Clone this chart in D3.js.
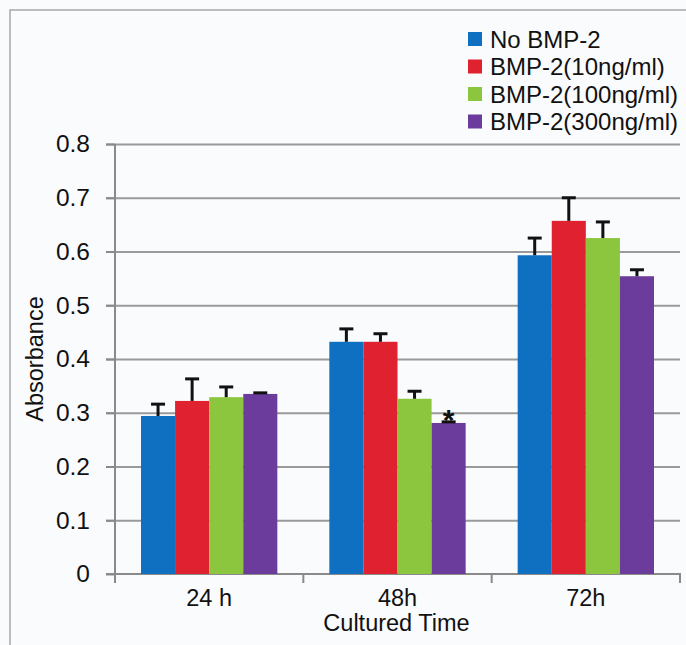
<!DOCTYPE html>
<html>
<head>
<meta charset="utf-8">
<script src="https://cdn.jsdelivr.net/npm/d3@7"></script>
<style>
  html, body { margin: 0; padding: 0; background: #fafbfd; }
  svg { display: block; }
  text { font-family: "Liberation Sans", Arial, Helvetica, sans-serif; fill: #111; }
</style>
</head>
<body>
<svg id="chart" width="686" height="645"></svg>
<script>
////////////////////////// DATA //////////////////////////

const categories = ['24 h', '48h', '72h']
const seriesNames = ['No BMP-2', 'BMP-2(10ng/ml)', 'BMP-2(100ng/ml)', 'BMP-2(300ng/ml)']
const seriesColors = ['#0f6fc0', '#e0212f', '#8cc63f', '#6b3c9b']

// mean absorbance per series, one value per category
const meanValues = [
  [0.294, 0.432, 0.593],
  [0.322, 0.432, 0.657],
  [0.329, 0.326, 0.625],
  [0.335, 0.281, 0.554]
]
// upper error (SD)
const errValues = [
  [0.022, 0.024, 0.032],
  [0.041, 0.015, 0.043],
  [0.019, 0.014, 0.030],
  [0.002, 0.002, 0.012]
]
const yTicks = [0, 0.1, 0.2, 0.3, 0.4, 0.5, 0.6, 0.7, 0.8]

// significance mark: [series index, category index]
const starMarks = [[3, 1]]

////////////////////////// SETUP //////////////////////////

const svg = d3.select('#chart')
const plotLeft = 115, plotRight = 680, plotTop = 144, plotBottom = 574

// outer frame
svg.append('rect')
  .attr('x', 10).attr('y', 10)
  .attr('width', 700).attr('height', 660)
  .attr('fill', '#fafbfd')
  .attr('stroke', '#a8a8a8')
  .attr('stroke-width', 1.5)

const xScale = d3.scaleBand().domain(categories).range([plotLeft, plotRight])
const xInner = d3.scaleBand().domain(d3.range(seriesNames.length))
  .range([26, xScale.bandwidth() - 26])
const yScale = d3.scaleLinear().domain([0, 0.8]).range([plotBottom, plotTop])

const data = []
seriesNames.forEach((s, si) => {
  categories.forEach((c, ci) => {
    data.push({ si, ci, cat: c, value: meanValues[si][ci], err: errValues[si][ci] })
  })
})

////////////////////////// GRID + AXES //////////////////////////

// grid lines
svg.append('g')
  .attr('transform', `translate(${plotLeft},0)`)
  .call(d3.axisLeft(yScale).tickValues(yTicks.slice(1)).tickSize(-(plotRight - plotLeft)).tickSizeOuter(0).tickFormat(''))
  .call(g => g.select('.domain').remove())
  .call(g => g.selectAll('line').attr('stroke', '#9a9a9a').attr('stroke-width', 2).attr('x1', -9))

// y axis
const yAxisG = svg.append('g')
  .attr('transform', `translate(${plotLeft},0)`)
  .call(d3.axisLeft(yScale).tickValues(yTicks).tickSize(9).tickSizeOuter(0).tickPadding(16).tickFormat(d => d === 0 ? '0' : d3.format('.1f')(d)))
yAxisG.select('.domain').attr('stroke', '#8a8a8a').attr('stroke-width', 2)
  .attr('d', `M0,${plotTop}V${plotBottom + 9}`)
yAxisG.selectAll('line').attr('stroke', '#8a8a8a').attr('stroke-width', 2)
yAxisG.selectAll('text').attr('font-size', 24.5).attr('fill', '#111')
  .attr('font-family', '"Liberation Sans", Arial, sans-serif')

// x axis
const xAxisG = svg.append('g')
  .attr('transform', `translate(0,${plotBottom})`)
  .call(d3.axisBottom(xScale).tickSize(0).tickPadding(15))
xAxisG.select('.domain').attr('stroke', '#8a8a8a').attr('stroke-width', 2)
  .attr('d', `M${plotLeft - 9},0H${plotRight}V9`)
xAxisG.selectAll('text').attr('font-size', 23.5).attr('fill', '#111')
  .attr('font-family', '"Liberation Sans", Arial, sans-serif')

// band boundary ticks
svg.append('g').selectAll('line')
  .data(categories)
  .enter()
  .append('line')
  .attr('x1', d => xScale(d)).attr('x2', d => xScale(d))
  .attr('y1', plotBottom).attr('y2', plotBottom + 9)
  .attr('stroke', '#8a8a8a').attr('stroke-width', 2)

////////////////////////// BARS //////////////////////////

svg.append('g').selectAll('rect')
  .data(data)
  .enter()
  .append('rect')
  .attr('x', d => xScale(d.cat) + xInner(d.si))
  .attr('y', d => yScale(d.value))
  .attr('width', xInner.bandwidth())
  .attr('height', d => yScale(0) - yScale(d.value))
  .attr('fill', d => seriesColors[d.si])

// error bars (upper only)
const errG = svg.append('g').attr('stroke', '#111').attr('stroke-width', 3)
errG.selectAll('.err-v')
  .data(data)
  .enter()
  .append('line')
  .attr('x1', d => xScale(d.cat) + xInner(d.si) + xInner.bandwidth() / 2)
  .attr('x2', d => xScale(d.cat) + xInner(d.si) + xInner.bandwidth() / 2)
  .attr('y1', d => yScale(d.value))
  .attr('y2', d => yScale(d.value + d.err))
errG.selectAll('.err-cap')
  .data(data)
  .enter()
  .append('line')
  .attr('x1', d => xScale(d.cat) + xInner(d.si) + xInner.bandwidth() / 2 - 7)
  .attr('x2', d => xScale(d.cat) + xInner(d.si) + xInner.bandwidth() / 2 + 7)
  .attr('y1', d => yScale(d.value + d.err))
  .attr('y2', d => yScale(d.value + d.err))

// asterisk
svg.append('g').selectAll('text')
  .data(starMarks)
  .enter()
  .append('text')
  .attr('x', d => xScale(categories[d[1]]) + xInner(d[0]) + xInner.bandwidth() / 2)
  .attr('y', d => yScale(meanValues[d[0]][d[1]] + errValues[d[0]][d[1]]) + 8)
  .attr('text-anchor', 'middle')
  .attr('font-size', 30)
  .attr('font-weight', 'bold')
  .text('*')

////////////////////////// LABELS + LEGEND //////////////////////////

svg.append('text')
  .attr('transform', `translate(43,${(plotTop + plotBottom) / 2}) rotate(-90)`)
  .attr('text-anchor', 'middle')
  .attr('font-size', 23.5)
  .text('Absorbance')

svg.append('text')
  .attr('x', (plotLeft + plotRight) / 2 - 1)
  .attr('y', 631)
  .attr('text-anchor', 'middle')
  .attr('font-size', 23.5)
  .text('Cultured Time')

const legend = svg.append('g').selectAll('g')
  .data(seriesNames)
  .enter()
  .append('g')
  .attr('transform', (d, i) => `translate(468,${39 + i * 27.5})`)
legend.append('rect')
  .attr('x', 0).attr('y', -7)
  .attr('width', 14).attr('height', 14)
  .attr('fill', (d, i) => seriesColors[i])
legend.append('text')
  .attr('x', 22).attr('y', 8.5)
  .attr('font-size', 24)
  .text(d => d)
</script>
</body>
</html>
